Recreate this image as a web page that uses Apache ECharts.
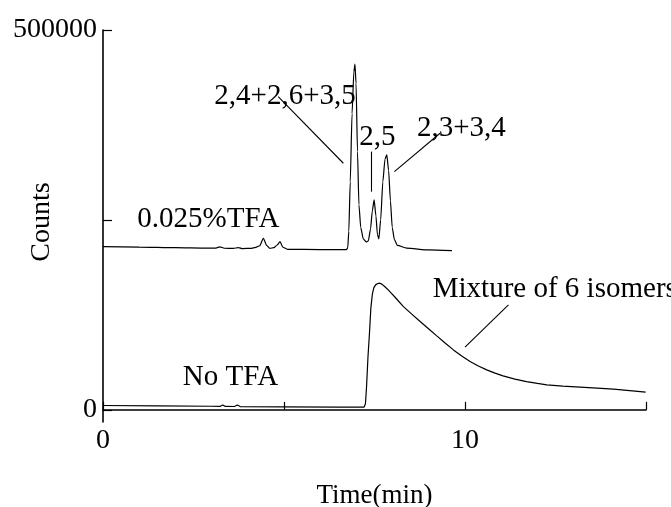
<!DOCTYPE html>
<html>
<head>
<meta charset="utf-8">
<script src="https://cdn.jsdelivr.net/npm/echarts@6/dist/echarts.min.js"></script>
<style>html,body{margin:0;padding:0;background:#fff;}#c{width:671px;height:507px;}</style>
</head>
<body>
<div id="c"></div>
<script>
// Upper trace: 0.025% TFA  [time (min), counts]
const tfaTrace = [
  [0, 214900], [1.0, 214300], [2.0, 213500], [2.86, 212800], [3.12, 213000],
  [3.23, 214600], [3.35, 212700], [3.6, 212500], [3.74, 213600], [3.85, 212300],
  [4.1, 212600], [4.22, 213800], [4.33, 216000], [4.43, 225900], [4.52, 216500],
  [4.61, 212500], [4.72, 213500], [4.81, 217000], [4.89, 221400], [4.97, 214000],
  [5.1, 211200], [6.0, 211000], [6.72, 210800], [6.76, 213000], [6.79, 235000],
  [6.83, 300000], [6.88, 390000], [6.93, 445000], [6.96, 455000], [6.99, 430000],
  [7.03, 340000], [7.07, 270000], [7.12, 240000], [7.19, 225000], [7.27, 221000],
  [7.33, 222500], [7.39, 238000], [7.44, 262000], [7.49, 276300], [7.54, 255000],
  [7.58, 231000], [7.62, 225000], [7.67, 250000], [7.73, 300000], [7.79, 330000],
  [7.84, 335500], [7.89, 315000], [7.94, 275000], [7.99, 240000], [8.05, 224000],
  [8.13, 216500], [8.39, 212800], [9.0, 210500], [9.64, 209600]
];
// Lower trace: No TFA
const noTfaTrace = [
  [0, 5700], [1.5, 5200], [3.0, 4700], [3.24, 4600], [3.31, 6500], [3.38, 4500],
  [3.63, 4400], [3.71, 6300], [3.79, 4300], [5.0, 4000], [6.5, 3700], [7.21, 3550],
  [7.25, 8000], [7.28, 30000], [7.32, 70000], [7.36, 100000], [7.40, 134200],
  [7.44, 152000], [7.48, 160500], [7.53, 164500], [7.59, 166300], [7.65, 166700],
  [7.71, 165200], [7.78, 162300], [7.86, 158800], [7.95, 154300], [8.05, 149200],
  [8.16, 143300], [8.30, 135900], [8.53, 126000], [8.76, 116200], [9.0, 106500],
  [9.22, 97400], [9.45, 88000], [9.68, 78900], [9.91, 70800], [10.14, 63600],
  [10.37, 57700], [10.60, 52600], [10.83, 48300], [11.05, 44700], [11.38, 40500],
  [11.70, 37200], [12.0, 34800], [12.26, 32900], [12.7, 31200], [13.18, 29900],
  [13.65, 28500], [14.10, 27200], [14.55, 25300], [14.99, 23300]
];
// Annotation texts and their anchors (data coordinates)
const annTexts = ['2,4+2,6+3,5', '2,5', '2,3+3,4', '0.025%TFA', 'No TFA', 'Mixture of 6 isomers'];
const annAnchors = [[5.03, 413200], [7.58, 359200], [9.90, 371000], [2.91, 251300], [3.52, 42100], [9.11, 157900]];
const annAlign = ['center', 'center', 'center', 'center', 'center', 'left'];
// Leader lines (data coordinates)
const leaders = [
  [[4.84, 412200], [6.64, 324600]],
  [[7.42, 339900], [7.42, 287200]],
  [[8.05, 313600], [9.31, 364100]],
  [[11.20, 138200], [10.00, 82500]]
];
// Axis ticks
const xTicks = [0, 5, 10, 15];
const xLabels = [0, 10];
const yTicks = [0, 250000, 500000];
const yLabels = [0, 500000];

const font = 'Liberation Serif';
const chart = echarts.init(document.getElementById('c'));
chart.setOption({
  animation: false,
  backgroundColor: '#fff',
  grid: { left: 103, right: 25, top: 30, bottom: 85, containLabel: false, outerBoundsMode: 'none' },
  xAxis: {
    type: 'value', min: 0, max: 15,
    name: 'Time(min)', nameLocation: 'middle', nameGap: 60, nameMoveOverlap: false,
    nameTextStyle: { fontFamily: font, fontSize: 27, color: '#000' },
    axisLine: { show: true, lineStyle: { color: '#000', width: 1.6 } },
    axisTick: { show: true, inside: true, length: 8, customValues: xTicks, lineStyle: { color: '#000', width: 1.2 } },
    axisLabel: { customValues: xLabels, fontFamily: font, fontSize: 28, color: '#000', margin: 5 },
    splitLine: { show: false }
  },
  yAxis: {
    type: 'value', min: -16000, max: 500000,
    name: 'Counts', nameLocation: 'middle', nameGap: 47, nameRotate: 90, nameMoveOverlap: false,
    nameTextStyle: { fontFamily: font, fontSize: 28, color: '#000', padding: [0, 0, 0, 8] },
    axisLine: { show: true, lineStyle: { color: '#000', width: 1.6 } },
    axisTick: { show: true, inside: true, length: 9, customValues: yTicks, lineStyle: { color: '#000', width: 1.2 } },
    axisLabel: { customValues: yLabels, formatter: v => String(v), fontFamily: font, fontSize: 28, color: '#000', margin: 6 },
    splitLine: { show: false }
  },
  series: [
    {
      type: 'line', data: tfaTrace, showSymbol: false, symbol: 'none',
      smooth: 0.2, smoothMonotone: 'x',
      lineStyle: { color: '#000', width: 1.2 }, silent: true
    },
    {
      type: 'line', data: noTfaTrace, showSymbol: false, symbol: 'none',
      lineStyle: { color: '#000', width: 1.2 }, silent: true,
      markLine: {
        silent: true, symbol: ['none', 'none'], animation: false,
        lineStyle: { color: '#000', width: 1.1, type: 'solid' },
        label: { show: false },
        data: leaders.map(p => [{ coord: p[0] }, { coord: p[1] }])
      }
    },
    {
      type: 'scatter', symbolSize: 0, silent: true,
      itemStyle: { opacity: 1 },
      data: annTexts.map((t, i) => ({
        name: t, value: annAnchors[i],
        label: {
          show: true, formatter: t,
          position: annAlign[i] === 'left' ? 'right' : 'inside',
          distance: 0,
          fontFamily: font, fontSize: 29, color: '#000'
        }
      }))
    }
  ]
});
</script>
</body>
</html>
